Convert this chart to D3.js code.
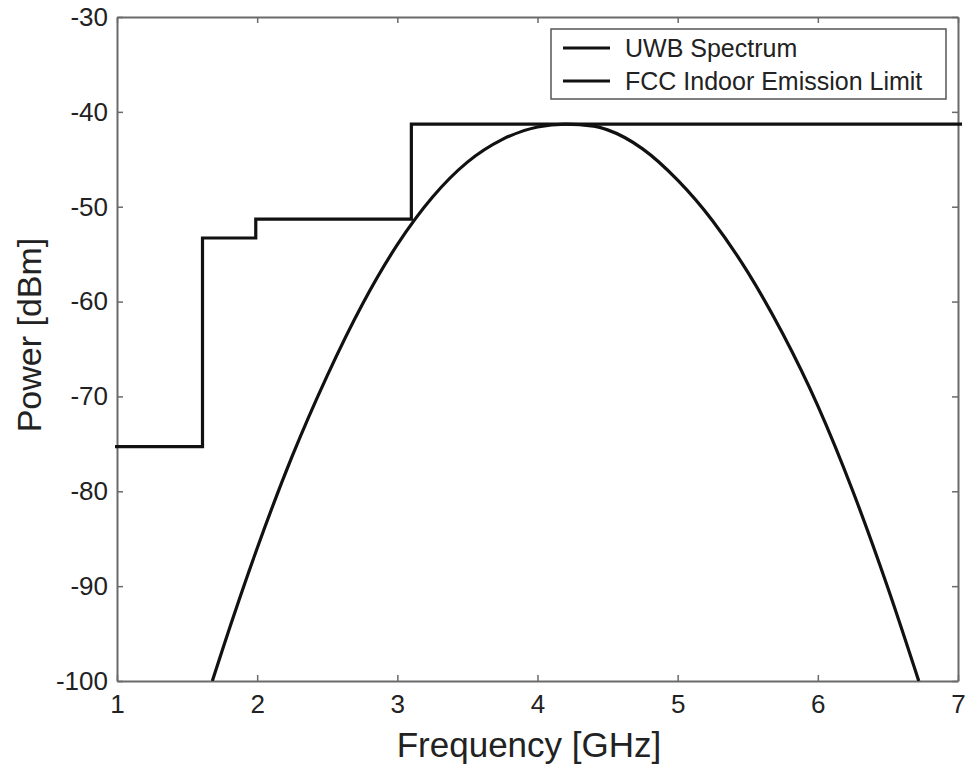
<!DOCTYPE html>
<html>
<head>
<meta charset="utf-8">
<script src="https://cdn.jsdelivr.net/npm/d3@7"></script>
<style>
  body { margin: 0; background: #fff; }
  text { font-family: "Liberation Sans", Arial, sans-serif; fill: #222; }
</style>
</head>
<body>
<div id="chart"></div>
<script>
// UWB spectrum (GHz, dBm)
const uwbFreq  = [1.68, 1.75, 2.0, 2.25, 2.5, 2.75, 3.0, 3.25, 3.5, 3.75, 4.0, 4.2, 4.4, 4.5, 4.75, 5.0, 5.25, 5.5, 5.75, 6.0, 6.25, 6.5, 6.72];
const uwbPower = [-100, -96.8, -86.0, -76.3, -67.8, -60.3, -54.0, -49.0, -45.3, -42.9, -41.6, -41.3, -41.5, -41.9, -43.9, -47.2, -51.5, -56.9, -63.4, -71.0, -80.0, -90.2, -100];

// FCC indoor emission mask, step corners
const fccFreq  = [0.96, 1.61, 1.61, 1.99, 1.99, 3.1, 3.1, 10.6];
const fccPower = [-75.3, -75.3, -53.3, -53.3, -51.3, -51.3, -41.3, -41.3];

const xTicks = [1, 2, 3, 4, 5, 6, 7];
const yTicks = [-30, -40, -50, -60, -70, -80, -90, -100];
const legendLabels = ["UWB Spectrum", "FCC Indoor Emission Limit"];

const width = 973, height = 764;
const margin = {top: 17, right: 15, bottom: 83, left: 117};
const innerW = width - margin.left - margin.right;
const innerH = height - margin.top - margin.bottom;

const x = d3.scaleLinear().domain([1, 7]).range([0, innerW]);
const y = d3.scaleLinear().domain([-100, -30]).range([innerH, 0]);

// plain hyphen, no decimals (like the original plot)
const fmt = d => String(d);

const svg = d3.select("#chart").append("svg")
  .attr("width", width)
  .attr("height", height);

const g = svg.append("g")
  .attr("transform", "translate(" + margin.left + "," + margin.top + ")");

svg.append("defs").append("clipPath")
  .attr("id", "clip")
  .append("rect")
  .attr("x", -2).attr("y", -2)
  .attr("width", innerW + 6).attr("height", innerH + 2);

/** axes: inward ticks on all four sides */
const axisColor = "#6a6a6a";
const tickFont = "26px";

const xAxis = g.append("g")
  .attr("transform", "translate(0," + innerH + ")")
  .call(d3.axisBottom(x).tickValues(xTicks).tickSizeInner(-6).tickSizeOuter(0).tickPadding(14).tickFormat(fmt));
const xAxisTop = g.append("g")
  .call(d3.axisTop(x).tickValues(xTicks).tickSizeInner(-6).tickSizeOuter(0).tickFormat(""));
const yAxis = g.append("g")
  .call(d3.axisLeft(y).tickValues(yTicks).tickSizeInner(-6).tickSizeOuter(0).tickPadding(9).tickFormat(fmt));
const yAxisRight = g.append("g")
  .attr("transform", "translate(" + innerW + ",0)")
  .call(d3.axisRight(y).tickValues(yTicks).tickSizeInner(-6).tickSizeOuter(0).tickFormat(""));

[xAxis, xAxisTop, yAxis, yAxisRight].forEach(function(a) {
  a.select(".domain").attr("stroke", axisColor).attr("stroke-width", 2);
  a.selectAll(".tick line").attr("stroke", axisColor).attr("stroke-width", 1.5);
  a.selectAll(".tick text")
    .attr("font-family", "Liberation Sans, Arial, sans-serif")
    .attr("font-size", tickFont)
    .attr("fill", "#333");
});

/** data lines */
const lineGen = d3.line()
  .x(d => x(d[0]))
  .y(d => y(d[1]));

const plot = g.append("g").attr("clip-path", "url(#clip)");

plot.append("path")
  .datum(fccFreq.map((f, i) => [f, fccPower[i]]))
  .attr("fill", "none")
  .attr("stroke", "#111")
  .attr("stroke-width", 3.2)
  .attr("d", lineGen);

plot.append("path")
  .datum(uwbFreq.map((f, i) => [f, uwbPower[i]]))
  .attr("fill", "none")
  .attr("stroke", "#111")
  .attr("stroke-width", 3.2)
  .attr("d", lineGen.curve(d3.curveMonotoneX));

/** legend */
const legend = svg.append("g").attr("transform", "translate(551,29)");
legend.append("rect")
  .attr("width", 395).attr("height", 70)
  .attr("fill", "#fff")
  .attr("stroke", "#555")
  .attr("stroke-width", 1.5);
legend.selectAll("g.item")
  .data(legendLabels)
  .enter().append("g")
  .attr("class", "item")
  .attr("transform", (d, i) => "translate(0," + (19 + i * 33) + ")")
  .each(function(d) {
    const item = d3.select(this);
    item.append("line")
      .attr("x1", 12).attr("x2", 59)
      .attr("stroke", "#111").attr("stroke-width", 3);
    item.append("text")
      .attr("x", 74).attr("dy", "0.35em")
      .attr("font-size", "25px")
      .text(d);
  });

/** axis titles */
svg.append("text")
  .attr("x", 529)
  .attr("y", 757)
  .attr("text-anchor", "middle")
  .attr("font-size", "35px")
  .text("Frequency [GHz]");

svg.append("text")
  .attr("transform", "translate(41,335) rotate(-90)")
  .attr("text-anchor", "middle")
  .attr("font-size", "34px")
  .text("Power [dBm]");
</script>
</body>
</html>
